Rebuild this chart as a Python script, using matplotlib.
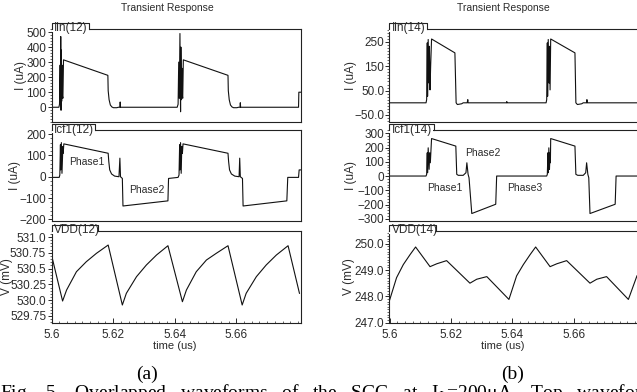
import matplotlib
matplotlib.use('Agg')
import matplotlib.pyplot as plt
from matplotlib.ticker import FixedLocator, FixedFormatter, AutoMinorLocator, NullLocator
from matplotlib.patches import Rectangle
from matplotlib.lines import Line2D

plt.rcParams['font.family'] = ['Liberation Sans', 'DejaVu Sans']
plt.rcParams['mathtext.fontset'] = 'stix'

# ---- data (time in us) ----
# (a) Iin(12)
t_iin12 = [5.6000, 5.6024, 5.6026, 5.6028, 5.6029, 5.6030, 5.6031, 5.6032, 5.6033, 5.6034, 5.6035,
           5.6037, 5.6039, 5.6183, 5.6184, 5.6187, 5.6191, 5.6196, 5.6201, 5.6212, 5.6217, 5.6222,
           5.6223, 5.6224, 5.6408, 5.6411, 5.6413, 5.6415, 5.6417, 5.6419, 5.6420, 5.6422, 5.6423,
           5.6424, 5.6426, 5.6428, 5.6573, 5.6574, 5.6577, 5.6581, 5.6586, 5.6591, 5.6602, 5.6607,
           5.6612, 5.6613, 5.6614, 5.6802, 5.6803, 5.6810]
i_iin12 = [0, 0, 20, 280, 60, 470, -20, 380, 40, 280, 80,
           60, 315, 212, 110, 50, 15, 2, -3, -3, 0, 0,
           35, 0, 0, 20, 300, 60, 490, -30, 400, 50, 260,
           90, 60, 315, 212, 110, 50, 15, 2, -3, -3, 0,
           0, 30, 0, 0, 100, 100]

# (a) Icf1(12)
t_icf12 = [5.6000, 5.6025, 5.6027, 5.6029, 5.6030, 5.6032, 5.6034, 5.6037, 5.6038, 5.6040,
           5.6184, 5.6186, 5.6189, 5.6195, 5.6205, 5.6219, 5.6222, 5.6224, 5.6230, 5.6232,
           5.6378, 5.6380, 5.6411, 5.6414, 5.6416, 5.6417, 5.6419, 5.6421, 5.6423, 5.6425,
           5.6427, 5.6573, 5.6575, 5.6578, 5.6584, 5.6595, 5.6609, 5.6611, 5.6613, 5.6620,
           5.6622, 5.6764, 5.6767, 5.6802, 5.6804, 5.6810]
i_icf12 = [-3, -3, 8, 150, 32, 160, 16, 142, 110, 154,
           110, 71, 32, 13, 3, 0, 87, 0, -8, -137,
           -113, -8, -3, 8, 150, 32, 160, 16, 142, 110,
           154, 110, 71, 32, 13, 3, 0, 87, 0, -8,
           -137, -113, -3, -3, 32, 32]

# (a) VDD(12)
t_vdd12 = [5.6000, 5.6036, 5.6049, 5.6081, 5.6113, 5.6146, 5.6184, 5.6230, 5.6243, 5.6276,
           5.6308, 5.6341, 5.6378, 5.6425, 5.6438, 5.6470, 5.6503, 5.6535, 5.6573, 5.6619,
           5.6632, 5.6665, 5.6697, 5.6730, 5.6768, 5.6805]
v_vdd12 = [530.715, 529.987, 530.161, 530.451, 530.609, 530.742, 530.873, 529.924, 530.109, 530.372,
           530.557, 530.715, 530.862, 529.976, 530.161, 530.451, 530.636, 530.742, 530.862, 529.924,
           530.109, 530.372, 530.557, 530.715, 530.862, 530.109]

# (b) Iin(14)
t_iin14 = [5.6000, 5.6119, 5.6121, 5.6123, 5.6124, 5.6126, 5.6129, 5.6130, 5.6132, 5.6134,
           5.6137, 5.6213, 5.6217, 5.6221, 5.6235, 5.6240, 5.6253, 5.6255, 5.6256, 5.6381,
           5.6382, 5.6383, 5.6510, 5.6512, 5.6514, 5.6515, 5.6517, 5.6520, 5.6521, 5.6523,
           5.6525, 5.6604, 5.6607, 5.6612, 5.6626, 5.6631, 5.6642, 5.6643, 5.6644, 5.6810]
i_iin14 = [0, 0, 13, 246, 27, 260, 81, 232, 53, 150,
           262, 205, 0, -7, -4, 0, 0, 13, 0, 0,
           5, 0, 0, 13, 246, 27, 260, 81, 232, 53,
           262, 205, 0, -7, -4, 0, 0, 13, 0, 0]

# (b) Icf1(14)
t_icf14 = [5.6000, 5.6119, 5.6121, 5.6123, 5.6124, 5.6126, 5.6129, 5.6131, 5.6133, 5.6137,
           5.6216, 5.6219, 5.6224, 5.6240, 5.6249, 5.6252, 5.6256, 5.6259, 5.6268, 5.6346,
           5.6349, 5.6512, 5.6514, 5.6516, 5.6517, 5.6519, 5.6521, 5.6523, 5.6524, 5.6525,
           5.6604, 5.6607, 5.6613, 5.6631, 5.6639, 5.6642, 5.6646, 5.6649, 5.6653, 5.6735,
           5.6738, 5.6810]
i_icf14 = [0, 0, 12, 163, 23, 198, 47, 163, 93, 263,
           210, 12, 5, 5, 23, 93, 12, -12, -263, -198,
           0, 0, 12, 163, 23, 198, 47, 163, 93, 263,
           210, 12, 5, 5, 23, 93, 12, -12, -263, -198,
           0, 0]

# (b) VDD(14)
t_vdd14 = [5.6000, 5.6023, 5.6045, 5.6067, 5.6085, 5.6132, 5.6154, 5.6186, 5.6262, 5.6284,
           5.6317, 5.6389, 5.6414, 5.6436, 5.6458, 5.6476, 5.6523, 5.6545, 5.6577, 5.6653,
           5.6675, 5.6707, 5.6778, 5.6806]
v_vdd14 = [247.84, 248.71, 249.21, 249.59, 249.88, 249.13, 249.24, 249.36, 248.50, 248.65,
           248.75, 247.88, 248.78, 249.21, 249.59, 249.88, 249.13, 249.24, 249.36, 248.50,
           248.65, 248.75, 247.88, 248.78]

x_ticks = [5.6, 5.62, 5.64, 5.66]
x_tick_labels = ['5.6', '5.62', '5.64', '5.66']

TXT = '#2b2b2b'
LINE = '#111111'
W, H = 637, 392


def fx(px):
    return px / W


def fy(py):
    return 1 - py / H


fig = plt.figure(figsize=(W / 100, H / 100), dpi=100)

rows = [(29, 122.3), (130, 220.5), (231, 322.5)]
cols = [(51.5, 301), (389.5, 638.2)]


def make_ax(col, row):
    x0, x1 = cols[col]
    y0, y1 = rows[row]
    return fig.add_axes([fx(x0), fy(y1), (x1 - x0) / W, (y1 - y0) / H])


def style(ax, ylim, yticks, ylabels, ylab, labx, nminor=5, bottom=False):
    ax.set_xlim(5.6, 5.681)
    ax.set_ylim(*ylim)
    for s in ax.spines.values():
        s.set_color('#222222')
        s.set_linewidth(0.8)
    ax.yaxis.set_major_locator(FixedLocator(yticks))
    ax.yaxis.set_major_formatter(FixedFormatter(ylabels))
    ax.yaxis.set_minor_locator(AutoMinorLocator(nminor))
    ax.tick_params(axis='y', which='major', direction='out', length=3, width=0.7,
                   pad=0.8, labelsize=8.5, colors=TXT)
    ax.tick_params(axis='y', which='minor', direction='out', length=1.5, width=0.5, colors=TXT)
    if bottom:
        ax.xaxis.set_major_locator(FixedLocator(x_ticks))
        ax.xaxis.set_major_formatter(FixedFormatter(x_tick_labels))
        ax.xaxis.set_minor_locator(AutoMinorLocator(8))
        ax.tick_params(axis='x', which='major', direction='in', length=3.5, width=0.7,
                       pad=5, labelsize=8.5, colors=TXT)
        ax.tick_params(axis='x', which='minor', direction='in', length=1.5, width=0.5, colors=TXT)
    else:
        ax.xaxis.set_major_locator(NullLocator())
        ax.xaxis.set_minor_locator(NullLocator())
    ax.set_ylabel(ylab, fontsize=8.5, color=TXT)
    ax.yaxis.set_label_coords(labx, 0.5)


def tab(ax, text, wpx):
    b = ax.get_position()
    x0, yt = b.x0, b.y1
    h, d, w = 6 / H, 2.5 / H, wpx / W
    fig.add_artist(Rectangle((x0, yt - d), w, h + d, transform=fig.transFigure,
                             facecolor='white', edgecolor='none', zorder=5))
    fig.add_artist(Line2D([x0, x0, x0 + w, x0 + w], [yt, yt + h, yt + h, yt],
                          transform=fig.transFigure, color='#222222', lw=0.8, zorder=6))
    fig.text(x0 + 2.5 / W, yt + h + 0.5 / H, text, va='top', ha='left',
             fontsize=8.5, color=TXT, zorder=7)


# ---- (a) ----
a1 = make_ax(0, 0)
a1.plot(t_iin12, i_iin12, color=LINE, lw=0.8)
style(a1, (-100, 520), [0, 100, 200, 300, 400, 500], ['0', '100', '200', '300', '400', '500'],
      'I (uA)', -0.098)
tab(a1, 'Iin(12)', 37)

a2 = make_ax(0, 1)
a2.plot(t_icf12, i_icf12, color=LINE, lw=0.8)
style(a2, (-205, 219), [-200, -100, 0, 100, 200], ['\u2212200', '\u2212100', '0', '100', '200'],
      'I (uA)', -0.122)
a2.text(5.6116, 70, 'Phase1', fontsize=7.5, color=TXT, ha='center', va='center')
a2.text(5.6311, -63, 'Phase2', fontsize=7.5, color=TXT, ha='center', va='center')
tab(a2, 'Icf1(12)', 44)

a3 = make_ax(0, 2)
a3.plot(t_vdd12, v_vdd12, color=LINE, lw=0.8)
style(a3, (529.647, 531.095), [529.75, 530.0, 530.25, 530.5, 530.75, 531.0],
      ['529.75', '530.0', '530.25', '530.5', '530.75', '531.0'], 'V (mV)', -0.154, bottom=True)
tab(a3, 'VDD(12)', 46)

# ---- (b) ----
b1 = make_ax(1, 0)
b1.plot(t_iin14, i_iin14, color=LINE, lw=0.8)
style(b1, (-80, 303), [-50, 50, 150, 250], ['\u221250.0', '50.0', '150', '250'],
      'I (uA)', -0.131, nminor=8)
tab(b1, 'Iin(14)', 37)

b2 = make_ax(1, 1)
b2.plot(t_icf14, i_icf14, color=LINE, lw=0.8)
style(b2, (-312, 323), [-300, -200, -100, 0, 100, 200, 300],
      ['\u2212300', '\u2212200', '\u2212100', '0', '100', '200', '300'], 'I (uA)', -0.131)
b2.text(5.6305, 164, 'Phase2', fontsize=7.5, color=TXT, ha='center', va='center')
b2.text(5.6181, -86, 'Phase1', fontsize=7.5, color=TXT, ha='center', va='center')
b2.text(5.6441, -86, 'Phase3', fontsize=7.5, color=TXT, ha='center', va='center')
tab(b2, 'Icf1(14)', 44)

b3 = make_ax(1, 2)
b3.plot(t_vdd14, v_vdd14, color=LINE, lw=0.8)
style(b3, (247.0, 250.49), [247, 248, 249, 250], ['247.0', '248.0', '249.0', '250.0'],
      'V (mV)', -0.139, nminor=10, bottom=True)
tab(b3, 'VDD(14)', 46)

# titles, axis names, captions
fig.text(fx(167), fy(8), 'Transient Response', ha='center', va='center', fontsize=7.5, color=TXT)
fig.text(fx(503), fy(8), 'Transient Response', ha='center', va='center', fontsize=7.5, color=TXT)
fig.text(fx(175), fy(346), 'time (us)', ha='center', va='center', fontsize=8, color=TXT)
fig.text(fx(503), fy(346), 'time (us)', ha='center', va='center', fontsize=8, color=TXT)

fig.text(fx(147), fy(374), '(a)', ha='center', va='center', family='Liberation Serif', fontsize=14)
fig.text(fx(513), fy(374), '(b)', ha='center', va='center', family='Liberation Serif', fontsize=14)
fig.text(fx(0), fy(398),
         'Fig.   5.   Overlapped   waveforms   of   the   SCC   at   I$_L$=200\u03bcA.   Top   waveforms   of',
         ha='left', va='baseline', family='Liberation Serif', fontsize=14)

fig.savefig('out.png', dpi=100)
